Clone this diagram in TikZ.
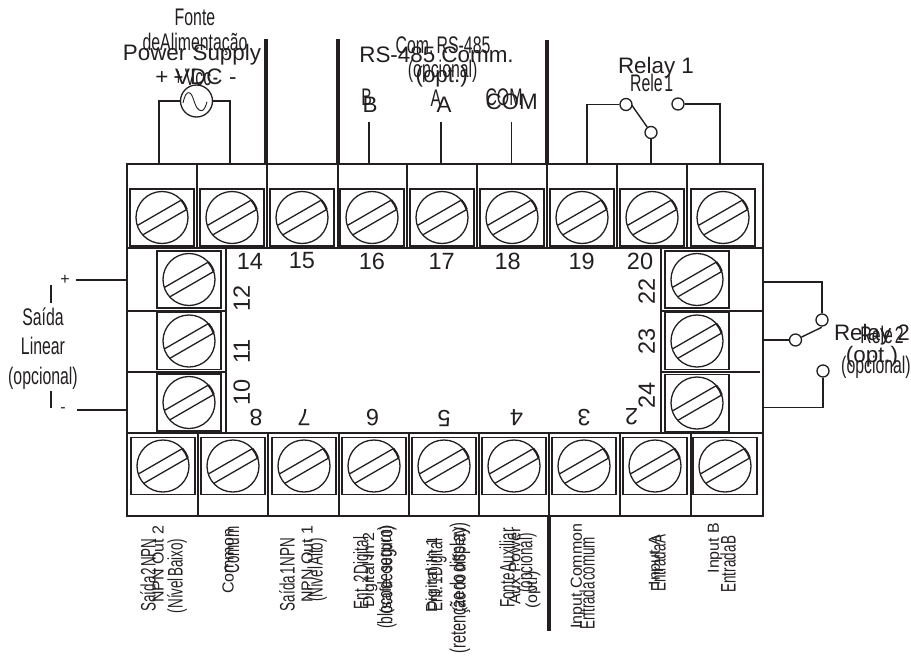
\documentclass[tikz,border=0pt]{standalone}
\usepackage{fontspec}
\setmainfont{Liberation Sans}
\newfontfamily\narrowfont[FakeStretch=0.66,WordSpace=0.4]{Liberation Sans}
\newfontfamily\termfont[FakeStretch=0.64,WordSpace=0.3]{Liberation Sans}
\begin{document}
\begin{tikzpicture}[x=1pt,y=1pt,yscale=-1,xscale=1,
	every path/.style={color={rgb, 255:red, 35; green, 31; blue, 32}},
	every node/.style={color={rgb, 255:red, 35; green, 31; blue, 32},inner sep=0pt},
	wire/.style={line width=1.4pt},
	frameline/.style={line width=1.7pt},
	divider/.style={line width=2.2pt},
	barrier/.style={line width=3.2pt},
	contact/.style={draw,circle,line width=1.3pt,minimum size=12pt,fill=white},
	wordbig/.style={font=\fontsize{22.4}{24}\selectfont},
	wordnarrow/.style={font=\narrowfont\fontsize{24}{26}\selectfont},
	termword/.style={font=\fontsize{16}{18}\selectfont,rotate=90},
	termnarrow/.style={font=\termfont\fontsize{21}{23}\selectfont,rotate=90},
	termnarrowbig/.style={font=\narrowfont\fontsize{22}{24}\selectfont,rotate=90},
	termnum/.style={font=\fontsize{23.5}{25}\selectfont},
	screwterm/.pic={
		\draw [line width=1.6pt] (-32,-28.5) rectangle (32,28.5);
		\draw [line width=1.3pt] (0,0) circle (26);
		\draw [line width=1.3pt] (-24.7,-8) -- (19.3,17.4) (-19.3,-17.4) -- (24.7,8);
		\draw [line width=2.2pt] (42:26) arc [start angle=42,end angle=18,radius=26];
	}]
\useasboundingbox (0,0) rectangle (911,656);

%Terminal frame
\draw [frameline] (127,164) rectangle (763,516);
\draw [frameline] (127,248) -- (763,248);
\draw [frameline] (127,433) -- (763,433);
\draw [frameline] (226,248) -- (226,433);
\draw [frameline] (661,248) -- (661,433);
\draw [divider] (127,311) -- (226,311);
\draw [wire] (127,372) -- (226,372);
\draw [divider] (661,311) -- (763,311);
\draw [wire] (661,372) -- (760,372);
%Top dividers
\draw [divider] (197,164) -- (197,248);
\draw [divider] (267,164) -- (267,248);
\draw [divider] (338,164) -- (338,248);
\draw [divider] (407,164) -- (407,248);
\draw [divider] (477,164) -- (477,248);
\draw [divider] (547,164) -- (547,248);
\draw [divider] (617,164) -- (617,248);
\draw [divider] (687,164) -- (687,248);
%Bottom dividers
\draw [divider] (198,433) -- (198,516);
\draw [divider] (268,433) -- (268,516);
\draw [divider] (339,433) -- (339,516);
\draw [divider] (409,433) -- (409,516);
\draw [divider] (479,433) -- (479,516);
\draw [divider] (549,433) -- (549,516);
\draw [divider] (620,433) -- (620,516);
\draw [divider] (691,433) -- (691,516);
%Group barriers
\draw [barrier] (266,39) -- (266,164);
\draw [barrier] (338,39) -- (338,164);
\draw [barrier] (547,40) -- (547,164);
\draw [barrier] (549,516) -- (549,631);

%Screws
\pic (screwtopa) at (162,217.5) {screwterm};
\pic (screwtopb) at (232,217.5) {screwterm};
\pic (screwtopc) at (302,217.5) {screwterm};
\pic (screwtopd) at (372,217.5) {screwterm};
\pic (screwtope) at (442,217.5) {screwterm};
\pic (screwtopf) at (512,217.5) {screwterm};
\pic (screwtopg) at (582,217.5) {screwterm};
\pic (screwtoph) at (652,217.5) {screwterm};
\pic (screwtopi) at (723,217.5) {screwterm};
\pic (screwlefta) at (189,279.5) {screwterm};
\pic (screwleftb) at (189,341) {screwterm};
\pic (screwleftc) at (189,402.5) {screwterm};
\pic (screwrighta) at (697,279.5) {screwterm};
\pic (screwrightb) at (697,341) {screwterm};
\pic (screwrightc) at (697,403) {screwterm};
\pic (screwbota) at (163,466) {screwterm};
\pic (screwbotb) at (233,466) {screwterm};
\pic (screwbotc) at (304,466) {screwterm};
\pic (screwbotd) at (374,466) {screwterm};
\pic (screwbote) at (444,466) {screwterm};
\pic (screwbotf) at (514,466) {screwterm};
\pic (screwbotg) at (584,466) {screwterm};
\pic (screwboth) at (655,466) {screwterm};
\pic (screwboti) at (725,466) {screwterm};

%Power supply
\node (supply) [contact,minimum size=32pt] at (196.5,101) {};
\coordinate (supplyplus) at (159,164);
\coordinate (supplyminus) at (230,164);
\draw [wire] (supply.west) -| (supplyplus);
\draw [wire] (supply.east) -| (supplyminus);
\draw [line width=0.9pt] (183,103) .. controls (185,94) and (187,92.5) .. (189,92.7) .. controls (194,93) and (194,111) .. (201.7,110.7) .. controls (204,110.5) and (206,106) .. (207,101.7);

%RS-485 wires
\coordinate (wirebtop) at (369,122);
\coordinate (wirebend) at (369,164);
\coordinate (wireatop) at (441,122);
\coordinate (wireaend) at (441,164);
\coordinate (wirecomtop) at (511.5,122);
\coordinate (wirecomend) at (511.5,164);
\draw [wire] (wirebtop) -- (wirebend);
\draw [wire] (wireatop) -- (wireaend);
\draw [wire] (wirecomtop) -- (wirecomend);

%Relay 1
\node (relayoneleft) [contact] at (626,104.5) {};
\node (relayoneright) [contact] at (678,104) {};
\node (relayonecommon) [contact] at (651,132.5) {};
\coordinate (relayonea) at (587,164);
\coordinate (relayoneb) at (720,164);
\coordinate (relayonec) at (651,164);
\draw [wire] (relayoneleft.west) -| (relayonea);
\draw [wire] (relayoneright.east) -| (relayoneb);
\draw [wire] (relayonecommon.south) -- (relayonec);
\coordinate (relayonearm) at (631.7,105);
\draw [wire] (relayonearm) -- (relayonecommon);

%Relay 2
\node (relaytwotop) [contact] at (822,320) {};
\node (relaytwocommon) [contact] at (795.5,340) {};
\node (relaytwobot) [contact] at (823,371) {};
\coordinate (relaytwoa) at (763,282);
\coordinate (relaytwob) at (763,340);
\coordinate (relaytwoc) at (763,407.5);
\coordinate (relaytwoarm) at (821.7,327.3);
\draw [wire] (relaytwoa) -| (relaytwotop.north);
\draw [wire] (relaytwob) -- (relaytwocommon.west);
\draw [wire] (relaytwoc) -| (relaytwobot.south);
\draw [wire] (relaytwocommon) -- (relaytwoarm);

%Linear output wires
\coordinate (linearplusa) at (127,280);
\coordinate (linearplusb) at (76,280);
\coordinate (linearminusa) at (127,410);
\coordinate (linearminusb) at (77,410);
\coordinate (linearbarup) at (51,285);
\coordinate (linearbarupb) at (51,303);
\coordinate (linearbardown) at (51,391);
\coordinate (linearbardownb) at (51,408);
\draw [divider] (linearplusa) -- (linearplusb);
\draw [divider] (linearminusa) -- (linearminusb);
\draw [divider] (linearbarup) -- (linearbarupb);
\draw [divider] (linearbardown) -- (linearbardownb);

% Text Node
\node (fontea) [wordnarrow] at (195,17) {Fonte};
\node (fonteb) [wordnarrow] at (195,44) {deAlimentação};
\node (powerword) [wordbig] at (192,55) {Power Supply};
\node (vdcword) [wordbig] at (196,77) {+ \hspace{0.5pt}VDC\hspace{0.5pt} -};
\node (vccword) [wordnarrow] at (196,77) {+ Vcc -};
\node (comnarrow) [wordnarrow] at (443,45) {Com. RS-485};
\node (commword) [wordbig] at (436.5,55) {RS-485 Comm.};
\node (comopcional) [wordnarrow] at (442.7,71) {(opcional)};
\node (comopt) [wordbig] at (441.7,77) {(opt.)};
\node (bnarrow) [wordnarrow] at (366.7,97) {B};
\node (bword) [wordbig] at (370,105) {B};
\node (anarrow) [wordnarrow] at (436,98) {A};
\node (aword) [wordbig] at (444,105) {A};
\node (comlabelnarrow) [wordnarrow] at (504,97.7) {COM};
\node (comlabel) [wordbig] at (511.7,102) {COM};
\node (relayoneword) [wordbig] at (656,68) {Relay 1};
\node (relayonenarrow) [wordnarrow] at (651.7,83) {Rele 1};
\node (relaytwoword) [wordbig] at (872,335) {Relay 2};
\node (relaytwonarrow) [wordnarrow] at (882,335) {Rele 2};
\node (relaytwoopt) [wordbig] at (872,357) {(opt.)};
\node (relaytwoopc) [wordnarrow] at (876,367) {(opcional)};
\node (saidaword) [wordnarrow] at (43,317) {Saída};
\node (linearword) [wordnarrow] at (43,346) {Linear};
\node (opcionalword) [wordnarrow] at (43,378) {(opcional)};
\node (plusword) [font=\fontsize{16}{18}\selectfont] at (65,280) {+};
\node (minusword) [font=\fontsize{16}{18}\selectfont] at (63,410) {-};

% Text Node
\node (numa) [termnum] at (250,261) {14};
\node (numb) [termnum] at (302,261) {15};
\node (numc) [termnum] at (372,261) {16};
\node (numd) [termnum] at (441.7,261) {17};
\node (nume) [termnum] at (507.7,261) {18};
\node (numf) [termnum] at (581.7,261) {19};
\node (numg) [termnum] at (640,261) {20};
\node (numh) [termnum,rotate=90] at (241.7,298) {12};
\node (numi) [termnum,rotate=90] at (241.7,351.7) {11};
\node (numj) [termnum,rotate=90] at (241.7,392) {10};
\node (numk) [termnum,rotate=90] at (646.7,291.7) {22};
\node (numl) [termnum,rotate=90] at (646.7,341.7) {23};
\node (numm) [termnum,rotate=90] at (646.7,395) {24};
\node (numn) [termnum,rotate=180] at (256,418) {8};
\node (numo) [termnum,rotate=180] at (304,418) {7};
\node (nump) [termnum,rotate=180] at (372.7,418) {6};
\node (numq) [termnum,rotate=180] at (444,418) {5};
\node (numr) [termnum,rotate=180] at (516.7,418) {4};
\node (nums) [termnum,rotate=180] at (584,418) {3};
\node (numt) [termnum,rotate=180] at (631.7,417) {2};

% Text Node
\node (saidatwo) [termnarrow] at (148,575) {Saída 2 NPN};
\node (npntwo) [termword] at (158,564) {NPN Out 2};
\node (baixoword) [termnarrow] at (177,576) {(Nível Baixo)};
\node (commonword) [termword] at (228,561.5) {Common};
\node (comumword) [termnarrow] at (232,550) {Comum};
\node (saidaone) [termnarrow] at (287,574.5) {Saída 1 NPN};
\node (npnone) [termword] at (307,564) {NPN Out 1};
\node (altoword) [termnarrow] at (317,570) {(Nível Alto)};
\node (enttwo) [termnarrow] at (363,573) {Ent. 2 Digital};
\node (digtwo) [termword] at (370,570) {Digital In 2};
\node (blocoword) [termnarrowbig,font=\narrowfont\fontsize{21}{23}\selectfont] at (387,577) {(bloco de seguro)};
\node (safeword) [termword] at (387,570) {(safe output)};
\node (entone) [termnarrow] at (437,575) {Ent. 1 Digital};
\node (digone) [termword] at (433,575) {Digital In 1};
\node (retencaoword) [termnarrowbig] at (460,588) {(retenção do display)};
\node (offsetword) [termword] at (460,570) {(zero offset)};
\node (fonteaux) [termnarrow] at (507,568) {Fonte Auxiliar};
\node (auxword) [termword] at (515,566) {Aux Power};
\node (opcaux) [termnarrow] at (527,563) {(opcional)};
\node (optaux) [termword] at (533,590) {(opt.)};
\node (inputcom) [termword] at (578,576) {Input Common};
\node (entcom) [termnarrow] at (587,583) {Entrada comum};
\node (inputa) [termword] at (656,560) {Input A};
\node (enta) [termnarrow] at (658,563) {Entrada A};
\node (inputb) [termword] at (715,548) {Input B};
\node (entb) [termnarrow] at (728,564) {Entrada B};
\end{tikzpicture}
\end{document}
